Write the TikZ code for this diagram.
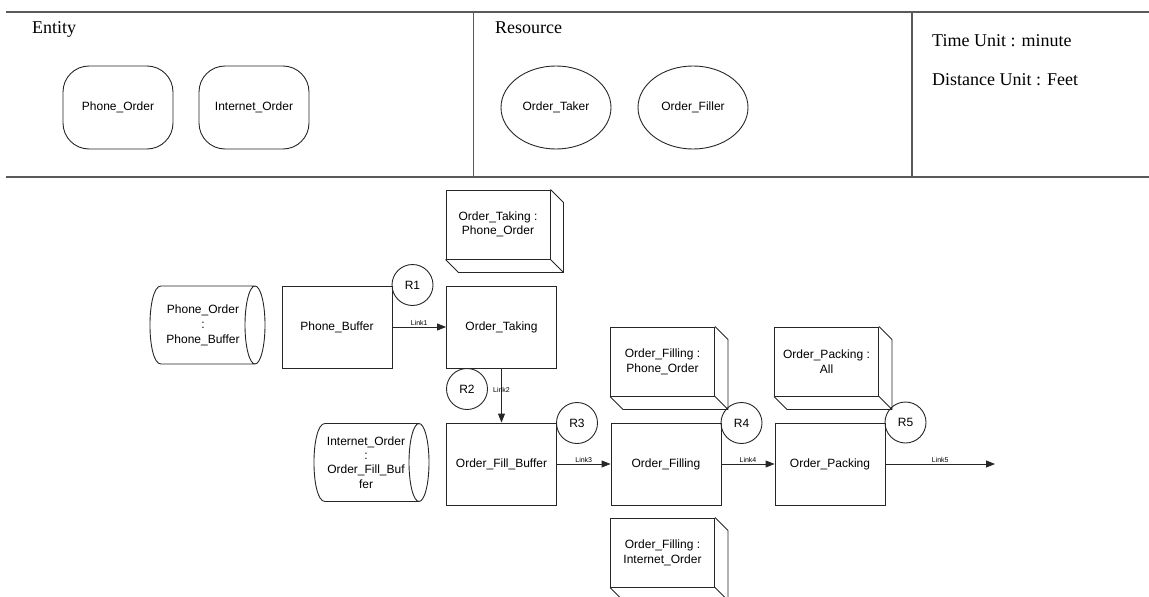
\documentclass[tikz,border=0pt]{standalone}
\usepackage{fontspec}
\setmainfont{Liberation Serif}
\newfontfamily\diagfont{Liberation Sans}
\usetikzlibrary{shapes.geometric, arrows.meta, calc}

\begin{document}
\begin{tikzpicture}[x=1pt, y=-1pt,
  line/.style={draw=black!85, line width=0.9pt},
  frame/.style={draw=black!65, line width=1.3pt},
  heading/.style={anchor=base west, inner sep=0pt, font=\fontsize{18}{20}\selectfont},
  lbl/.style={font=\diagfont\fontsize{12}{14}\selectfont, align=center},
  entitybox/.style={lbl, line, rectangle, rounded corners=26pt, minimum width=110pt, minimum height=83pt, inner sep=0pt},
  resource/.style={lbl, line, ellipse, minimum width=110pt, minimum height=83pt, inner sep=0pt},
  procbox/.style={lbl, line, rectangle, minimum width=110pt, minimum height=82pt, inner sep=0pt},
  slab/.style={lbl, line, rectangle, minimum width=104pt, minimum height=69pt, inner sep=0pt},
  drumtext/.style={lbl, inner sep=0pt},
  ruler/.style={lbl, line, circle, minimum size=41pt, inner sep=0pt},
  flow/.style={line, -{Triangle[length=9pt, width=7pt]}},
  linklabel/.style={font=\diagfont\fontsize{7}{8}\selectfont, inner sep=1pt},
]
\useasboundingbox (0,0) rectangle (1149,597);
\clip (0,0) rectangle (1149,597);

% ---- header band ----
\draw[frame] (6,12) -- (1149,12);
\draw[frame, line width=2pt] (6,177) -- (1149,177);
\draw[frame] (473.5,12) -- (473.5,177);
\draw[frame] (912,12) -- (912,177);

\node[heading] (hent) at (32,33) {Entity};
\node[heading] (hres) at (495,33) {Resource};
\node[heading] (htime) at (932,46) {Time Unit : minute};
\node[heading] (hdist) at (932,85) {Distance Unit : Feet};

\node[entitybox] (ephone) at (118,107.5) {Phone\_Order};
\node[entitybox] (einet) at (254,107.5) {Internet\_Order};
\node[resource] (rtaker) at (556,107.5) {Order\_Taker};
\node[resource] (rfiller) at (693,107.5) {Order\_Filler};

% ---- queues (drums) ----
\coordinate (pobc) at (208,325);
\coordinate (iobc) at (372,462.5);
\node[drumtext, font=\diagfont\fontsize{12}{15}\selectfont] (pob) at ([xshift=-5pt]pobc) {Phone\_Order\\:\\Phone\_Buffer};
\node[drumtext, font=\diagfont\fontsize{12}{14.3}\selectfont] (iob) at ([xshift=-6pt]iobc) {Internet\_Order\\:\\Order\_Fill\_Buf\\fer};
\foreach \c in {pobc, iobc} {
  \draw[line] ($(\c)+(-47,-39)$) -- ($(\c)+(47,-39)$)
              ($(\c)+(-47,39)$) -- ($(\c)+(47,39)$)
              ($(\c)+(-47,-39)$) .. controls ($(\c)+(-61.7,-39)$) and ($(\c)+(-61.7,39)$) .. ($(\c)+(-47,39)$)
              ($(\c)+(47,0)$) ellipse [x radius=10, y radius=39];
}

% ---- stations ----
\node[procbox] (pbuf) at (337,327) {Phone\_Buffer};
\node[procbox] (otk) at (501.5,327) {Order\_Taking};
\node[procbox] (ofb) at (501.5,464) {Order\_Fill\_Buffer};
\node[procbox] (ofl) at (666,464) {Order\_Filling};
\node[procbox] (opk) at (830,464) {Order\_Packing};
\coordinate (out) at (995,464);

% ---- process blocks ----
\node[slab, font=\diagfont\fontsize{12}{14}\selectfont] (otp) at (498,224.5) {Order\_Taking :\\Phone\_Order};
\node[slab, font=\diagfont\fontsize{12}{15}\selectfont] (ofp) at (662.5,361.5) {Order\_Filling :\\Phone\_Order};
\node[slab, font=\diagfont\fontsize{12}{15}\selectfont] (opa) at (826.5,361.5) {Order\_Packing :\\All};
\node[slab, font=\diagfont\fontsize{12}{15}\selectfont] (ofi) at (662.5,552.5) {Order\_Filling :\\Internet\_Order};
\foreach \n in {otp, ofp, opa, ofi} {
  \draw[line] (\n.north east) -- ++(13,13) -- ($(\n.south east)+(13,13)$) -- ($(\n.south west)+(13,13)$) -- (\n.south west)
              (\n.south east) -- ++(13,13);
}

% ---- rules ----
\node[ruler] (r1) at (412.5,285) {R1};
\node[ruler] (r2) at (467,389) {R2};
\node[ruler] (r3) at (577,423) {R3};
\node[ruler] (r4) at (741.5,423) {R4};
\node[ruler] (r5) at (905.5,422.5) {R5};

% ---- links ----
\draw[flow] (pbuf) -- node[linklabel, above] {Link1} (otk);
\draw[flow] (otk) -- node[linklabel, pos=0.4] {Link2} (ofb);
\draw[flow] (ofb) -- node[linklabel, above] {Link3} (ofl);
\draw[flow] (ofl) -- node[linklabel, above] {Link4} (opk);
\draw[flow] (opk) -- node[linklabel, above] {Link5} (out);
\end{tikzpicture}
\end{document}
